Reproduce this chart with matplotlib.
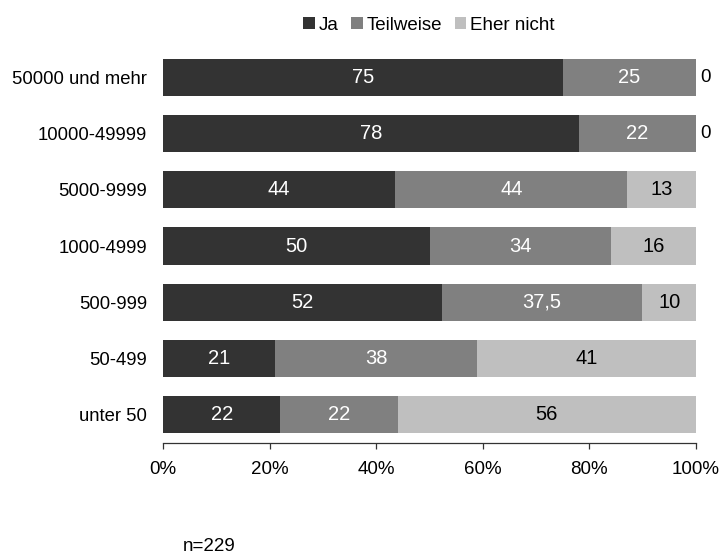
import matplotlib
matplotlib.use("Agg")
import matplotlib.pyplot as plt
from matplotlib.patches import Patch
import numpy as np

plt.rcParams['font.family'] = ['Liberation Sans', 'DejaVu Sans']

# Gemeindegrößenklassen (von unten nach oben)
categories = ["unter 50", "50-499", "500-999", "1000-4999",
              "5000-9999", "10000-49999", "50000 und mehr"]
series_names = ["Ja", "Teilweise", "Eher nicht"]
ja = [22, 21, 52, 50, 44, 78, 75]
teilweise = [22, 38, 37.5, 34, 44, 22, 25]
eher_nicht = [56, 41, 10, 16, 13, 0, 0]
value_labels = [
    ["22", "21", "52", "50", "44", "78", "75"],
    ["22", "38", "37,5", "34", "44", "22", "25"],
    ["56", "41", "10", "16", "13", "0", "0"],
]
xtick_values = [0, 20, 40, 60, 80, 100]
xtick_labels = ["0%", "20%", "40%", "60%", "80%", "100%"]
sample_note = "n=229"

colors = ["#333333", "#808080", "#bfbfbf"]
text_colors = ["white", "white", "black"]

W, H = 723, 555
fig = plt.figure(figsize=(W / 100, H / 100), dpi=100)
ax = fig.add_axes([163 / W, 1 - 443 / H, (696 - 163) / W, (443 - 59) / H])

data = np.array([ja, teilweise, eher_nicht], dtype=float)
totals = data.sum(axis=0)
shares = data / totals * 100  # jede Zeile auf 100 % normiert

y = np.arange(len(categories))
bar_h = 0.66
left = np.zeros(len(categories))
for k in range(3):
    ax.barh(y, shares[k], left=left, height=bar_h, color=colors[k],
            edgecolor="none", label=series_names[k])
    for i in range(len(categories)):
        if data[k, i] == 0:
            ax.annotate(value_labels[k][i], (left[i] + shares[k, i], y[i]),
                        xytext=(3, 0), textcoords="offset points",
                        ha="left", va="center", fontsize=13.5, color="black",
                        annotation_clip=False)
        else:
            ax.text(left[i] + shares[k, i] / 2, y[i], value_labels[k][i],
                    ha="center", va="center", fontsize=14.5, color=text_colors[k])
    left = left + shares[k]

ax.set_xlim(0, 100)
ax.set_ylim(-0.508, len(categories) - 1 + bar_h / 2)
ax.set_yticks(y)
ax.set_yticklabels(categories, fontsize=13.3)
ax.set_xticks(xtick_values)
ax.set_xticklabels(xtick_labels, fontsize=13.5)
ax.tick_params(axis="y", length=0, pad=11.5)
ax.tick_params(axis="x", length=4, width=0.9, color="#333333", pad=9)
for s in ["top", "right", "left"]:
    ax.spines[s].set_visible(False)
ax.spines["bottom"].set_color("#333333")
ax.spines["bottom"].set_linewidth(0.9)

handles = [Patch(facecolor=c, edgecolor="none") for c in colors]
fig.legend(handles, series_names, loc="center", bbox_to_anchor=(429 / W, 1 - 25 / H),
           ncol=3, frameon=False, fontsize=13.5, handlelength=0.6, handleheight=0.6,
           handletextpad=0.2, columnspacing=0.7, borderpad=0)

fig.text(183 / W, 1 - 551 / H, sample_note, ha="left", va="baseline", fontsize=13.5)

fig.savefig("out.png", dpi=100)
